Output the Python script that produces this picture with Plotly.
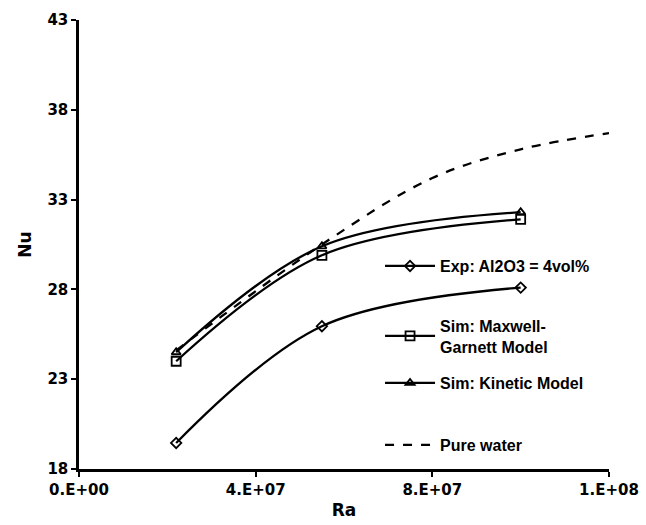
import plotly.graph_objects as go

ra_exp = [2.2e7, 5.5e7, 1.0e8]
nu_exp = [19.45, 25.95, 28.1]
ra_mg = [2.2e7, 5.5e7, 1.0e8]
nu_mg = [24.0, 29.9, 31.9]
ra_kin = [2.2e7, 5.5e7, 1.0e8]
nu_kin = [24.5, 30.4, 32.3]
ra_water = [2.2e7, 5.5e7, 8.0e7, 1.0e8, 1.2e8]
nu_water = [24.6, 30.5, 34.2, 35.8, 36.7]

x_tickvals = [0, 4e7, 8e7, 1.2e8]
x_ticktext = ["0.E+00", "4.E+07", "8.E+07", "1.E+08"]
y_tickvals = [18, 23, 28, 33, 38, 43]

FONT = "Liberation Sans"
TFONT = "DejaVu Sans"
TICKFONT = dict(family=TFONT, size=15, color="black", weight="bold")
LEGFONT = dict(family=FONT, size=16, color="black", weight="bold")
TITLEFONT = dict(family=TFONT, size=17, color="black", weight="bold")

fig = go.Figure()
fig.add_trace(go.Scatter(
    x=ra_exp, y=nu_exp, mode="lines+markers", name="Exp: Al2O3 = 4vol%",
    line=dict(color="black", width=2.3, shape="spline", smoothing=1.0),
    marker=dict(symbol="diamond-open", size=8, color="black", line=dict(width=1.8)),
    legend="legend"))
fig.add_trace(go.Scatter(
    x=ra_mg, y=nu_mg, mode="lines+markers", name="Sim: Maxwell-<br>Garnett Model",
    line=dict(color="black", width=2.3, shape="spline", smoothing=1.0),
    marker=dict(symbol="square-open", size=9, color="black", line=dict(width=1.8)),
    legend="legend2"))
fig.add_trace(go.Scatter(
    x=ra_kin, y=nu_kin, mode="lines+markers", name="Sim: Kinetic Model",
    line=dict(color="black", width=2.3, shape="spline", smoothing=1.0),
    marker=dict(symbol="triangle-up-open", size=8, color="black", line=dict(width=1.8)),
    legend="legend3"))
fig.add_trace(go.Scatter(
    x=ra_water, y=nu_water, mode="lines", name="Pure water",
    line=dict(color="black", width=2.3, dash="dash", shape="spline", smoothing=1.0),
    legend="legend4"))

def leg(y):
    return dict(x=0.568, y=y, xanchor="left", yanchor="middle",
                bgcolor="rgba(0,0,0,0)", itemwidth=50, font=LEGFONT)

fig.update_layout(
    width=646, height=525,
    margin=dict(l=79, r=37, t=20, b=56, autoexpand=False),
    paper_bgcolor="white", plot_bgcolor="white",
    font=dict(family=FONT, size=15, color="black", weight="bold"),
    showlegend=True,
    legend=leg(0.452),
    legend2=leg(0.296),
    legend3=leg(0.1915),
    legend4=leg(0.0535),
    xaxis=dict(range=[0, 1.2e8], tickvals=x_tickvals, ticktext=x_ticktext,
               showgrid=False, zeroline=False, showline=True, linecolor="black",
               linewidth=2.5, ticks="outside", ticklen=5, tickwidth=2, tickcolor="black",
               tickfont=TICKFONT, automargin=False,
               title=dict(text="Ra", font=TITLEFONT, standoff=7)),
    yaxis=dict(range=[18, 43], tickvals=y_tickvals,
               showgrid=False, zeroline=False, showline=True, linecolor="black",
               linewidth=2.5, ticks="outside", ticklen=5, tickwidth=2, tickcolor="black",
               tickfont=TICKFONT, automargin=False,
               title=dict(text="Nu", font=TITLEFONT, standoff=12)),
)

fig.write_html("out.html")
